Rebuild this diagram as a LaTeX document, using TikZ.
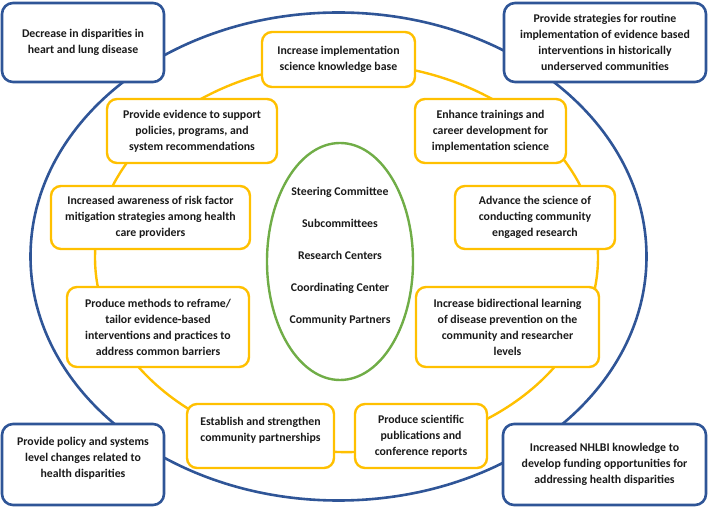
\documentclass[tikz,border=0pt]{standalone}
\usepackage{fontspec}
\setmainfont{Carlito}
\usepackage{tikz}
\usetikzlibrary{positioning,shapes.geometric,backgrounds}
\definecolor{palBlue}{HTML}{2F5597}
\definecolor{palYellow}{HTML}{FFC000}
\definecolor{palGreen}{HTML}{70AD47}
\definecolor{palInk}{HTML}{1A1A1A}
\tikzset{
  boxtext/.style={font=\bfseries\fontsize{11.8}{16}\selectfont, text=palInk,
                  align=center, inner sep=2pt},
  goalbox/.style={boxtext, draw=palBlue, line width=2.6pt, rounded corners=11pt,
                  fill=white},
  aimbox/.style={boxtext, draw=palYellow, line width=2.4pt, rounded corners=10pt,
                 fill=white},
  ringnode/.style={ellipse, inner sep=0pt, line width=2.4pt},
}
\begin{document}
\begin{tikzpicture}[x=1pt, y=-1pt]
\useasboundingbox (0,0) rectangle (709,510);

%% Rings
\node[ringnode, draw=palBlue, line width=2.6pt, minimum width=616pt,
      minimum height=488pt] (outer) at (338.5,256.5) {};
\node[ringnode, draw=palYellow, minimum width=503pt,
      minimum height=389pt] (ring) at (346.5,257.6) {};
\node[ringnode, draw=palGreen, minimum width=146pt,
      minimum height=237pt] (hub) at (340,261.5) {};
\node[boxtext, font=\bfseries\fontsize{11.8}{32}\selectfont] (hublist) at (340,256.5)
  {Steering Committee\\Subcommittees\\Research Centers\\Coordinating Center\\Community Partners};

%% Outer goals
\node[goalbox, minimum width=162pt, minimum height=79pt] (g1) at (83,42.5)
  {Decrease in disparities in\\heart and lung disease};
\node[goalbox, minimum width=202pt, minimum height=79pt] (g2) at (605,42.5)
  {Provide strategies for routine\\implementation of evidence based\\interventions in historically\\underserved communities};
\node[goalbox, minimum width=162pt, minimum height=81pt, text depth=14pt] (g3) at (83,464.5)
  {Provide policy and systems\\level changes related to\\health disparities};
\node[goalbox, minimum width=203pt, minimum height=81pt] (g4) at (604.5,464.5)
  {Increased NHLBI knowledge to\\develop funding opportunities for\\addressing health disparities};

%% Aims on the ring
\node[aimbox, minimum width=153pt, minimum height=55pt] (a1) at (338.5,59.5)
  {Increase implementation\\science knowledge base};
\node[aimbox, minimum width=151pt, minimum height=64pt] (a2) at (490.5,131)
  {Enhance trainings and\\career development for\\implementation science};
\node[aimbox, minimum width=160pt, minimum height=63pt] (a3) at (535,217.5)
  {Advance the science of\\conducting community\\engaged research};
\node[aimbox, minimum width=183pt, minimum height=80pt] (a4) at (507.5,327)
  {Increase bidirectional learning\\of disease prevention on the\\community and researcher\\levels};
\node[aimbox, minimum width=132pt, minimum height=64pt] (a5) at (421,436)
  {Produce scientific\\publications and\\conference reports};
\node[aimbox, minimum width=147pt, minimum height=64pt, text depth=13pt] (a6) at (260.5,436)
  {Establish and strengthen\\community partnerships};
\node[aimbox, minimum width=182pt, minimum height=80pt] (a7) at (158,327)
  {Produce methods to reframe/\\tailor evidence-based\\interventions and practices to\\address common barriers};
\node[aimbox, minimum width=199pt, minimum height=63pt] (a8) at (150.5,217.5)
  {Increased awareness of risk factor\\mitigation strategies among health\\care providers};
\node[aimbox, minimum width=170pt, minimum height=64pt] (a9) at (192,131)
  {Provide evidence to support\\policies, programs, and\\system recommendations};
\end{tikzpicture}
\end{document}
